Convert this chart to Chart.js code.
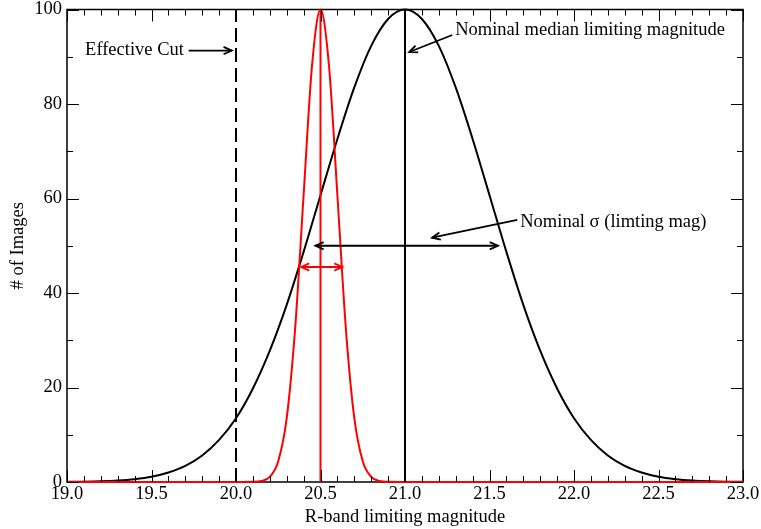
<!DOCTYPE html>
<html>
<head>
<meta charset="utf-8">
<script src="https://cdn.jsdelivr.net/npm/chart.js@4.4.1/dist/chart.umd.min.js"></script>
<style>
html,body{margin:0;padding:0;background:#fff}
#wrap{width:761px;height:529px}
</style>
</head>
<body>
<div id="wrap"><canvas id="c"></canvas></div>
<script>
// all images: limiting magnitude distribution
const allMag = [19.0,19.1,19.2,19.3,19.4,19.5,19.6,19.7,19.8,19.9,20.0,20.1,20.2,20.3,20.4,20.5,20.6,20.7,20.8,20.9,
  21.0,21.1,21.2,21.3,21.4,21.5,21.6,21.7,21.8,21.9,22.0,22.1,22.2,22.3,22.4,22.5,22.6,22.7,22.8,22.9,23.0];
const allImages = [0.03,0.07,0.15,0.31,0.6,1.1,2.0,3.4,5.6,8.9,13.5,19.8,27.8,37.5,48.7,60.7,72.6,83.5,92.3,98.0,
  100,98.0,92.3,83.5,72.6,60.7,48.7,37.5,27.8,19.8,13.5,8.9,5.6,3.4,2.0,1.1,0.6,0.31,0.15,0.07,0.03];

// narrow (red) distribution
const narrowMag = [19.0,20.0,20.1,20.15,20.2,20.25,20.3,20.35,20.4,20.45,20.5,20.55,20.6,20.65,20.7,20.75,20.8,20.85,20.9,21.0,23.0];
const narrowImages = [0,0,0.03,0.2,1.1,4.4,13.5,32.5,60.7,88.2,100,88.2,60.7,32.5,13.5,4.4,1.1,0.2,0.03,0,0];

const cutMag = 20.0;
const narrowMedian = 20.5;
const medianMag = 21.0;
const yRange = [0, 100];

const FONT = '"Liberation Serif", "Times New Roman", serif';
const FS = 18.5;

function pts(xs, ys){ return xs.map((x,i)=>({x:x, y:ys[i]})); }
function vline(v){ return [{x:v,y:yRange[0]},{x:v,y:yRange[1]}]; }

// annotations in data coords
const notes = [
  {text:'Effective Cut', x:19.107, y:91.3},
  {text:'Nominal median limiting magnitude', x:21.297, y:95.6},
  {text:'Nominal \u03c3 (limting mag)', x:21.682, y:54.9}
];
const arrows = [
  {x1:19.72,y1:91.3,x2:19.975,y2:91.3,color:'#000',both:false},
  {x1:21.28,y1:94.6,x2:21.025,y2:91.0,color:'#000',both:false},
  {x1:21.664,y1:55.5,x2:21.16,y2:51.7,color:'#000',both:false},
  {x1:20.47,y1:50,x2:21.55,y2:50,color:'#000',both:true},
  {x1:20.385,y1:45.5,x2:20.63,y2:45.5,color:'#f00',both:true}
];

function head(ctx,x1,y1,x2,y2){
  const a = Math.atan2(y2-y1,x2-x1), L = 9, w = 0.42;
  ctx.beginPath();
  ctx.moveTo(x2-L*Math.cos(a-w), y2-L*Math.sin(a-w));
  ctx.lineTo(x2,y2);
  ctx.lineTo(x2-L*Math.cos(a+w), y2-L*Math.sin(a+w));
  ctx.stroke();
}

const framePlugin = {
  id:'frame',
  beforeDatasetsDraw(chart){
    const {ctx, chartArea:a} = chart;
    ctx.save();
    ctx.strokeStyle='#000'; ctx.lineWidth=1.5;
    ctx.strokeRect(a.left, a.top, a.right-a.left, a.bottom-a.top);
    ctx.restore();
  },
  afterDatasetsDraw(chart){
    const {ctx, chartArea:a, scales:{x,y}} = chart;
    ctx.save();
    ctx.strokeStyle='#000'; ctx.lineWidth=1;
    x.ticks.forEach(t=>{
      const p = Math.round(x.getPixelForValue(t.value))+0.5;
      const len = t.label ? 12 : 6;
      ctx.beginPath();
      ctx.moveTo(p,a.bottom); ctx.lineTo(p,a.bottom-len);
      ctx.moveTo(p,a.top); ctx.lineTo(p,a.top+len);
      ctx.stroke();
    });
    y.ticks.forEach(t=>{
      const p = Math.round(y.getPixelForValue(t.value))+0.5;
      const len = t.label !== '' ? 12 : 6;
      ctx.beginPath();
      ctx.moveTo(a.left,p); ctx.lineTo(a.left+len,p);
      ctx.moveTo(a.right,p); ctx.lineTo(a.right-len,p);
      ctx.stroke();
    });
    ctx.lineWidth=1.8;
    arrows.forEach(r=>{
      const x1=x.getPixelForValue(r.x1), y1=y.getPixelForValue(r.y1);
      const x2=x.getPixelForValue(r.x2), y2=y.getPixelForValue(r.y2);
      ctx.strokeStyle=r.color;
      ctx.beginPath(); ctx.moveTo(x1,y1); ctx.lineTo(x2,y2); ctx.stroke();
      head(ctx,x1,y1,x2,y2);
      if(r.both) head(ctx,x2,y2,x1,y1);
    });
    ctx.fillStyle='#000';
    ctx.font=FS+'px '+FONT;
    ctx.textBaseline='middle';
    ctx.textAlign='left';
    notes.forEach(n=>ctx.fillText(n.text, x.getPixelForValue(n.x), y.getPixelForValue(n.y)));
    ctx.restore();
  }
};

new Chart(document.getElementById('c'),{
  type:'line',
  data:{
    datasets:[
      {data:vline(medianMag), borderColor:'#000', borderWidth:2, pointRadius:0},
      {data:vline(narrowMedian), borderColor:'#f00', borderWidth:2, pointRadius:0},
      {data:vline(cutMag), borderColor:'#000', borderWidth:2, borderDash:[14,6], pointRadius:0},
      {data:pts(narrowMag,narrowImages), borderColor:'#f00', borderWidth:2, pointRadius:0, cubicInterpolationMode:'monotone', clip:4},
      {data:pts(allMag,allImages), borderColor:'#000', borderWidth:2, pointRadius:0, cubicInterpolationMode:'monotone', clip:4}
    ]
  },
  options:{
    responsive:true,
    maintainAspectRatio:false,
    animation:false,
    layout:{padding:{top:9.5,right:18,left:0,bottom:0}},
    plugins:{legend:{display:false},tooltip:{enabled:false}},
    scales:{
      x:{
        type:'linear', min:19, max:23,
        afterFit(s){ s.height=47; s.paddingRight=0; s.paddingLeft=0; },
        grid:{display:false,drawTicks:false},
        border:{display:false},
        ticks:{
          stepSize:0.1, autoSkip:false, maxRotation:0, padding:1, color:'#000',
          font:{family:FONT,size:FS},
          callback(v){ return Math.abs(v*2-Math.round(v*2))<1e-6 ? v.toFixed(1) : ''; }
        },
        title:{display:true,text:'R-band limiting magnitude',color:'#000',font:{family:FONT,size:FS},padding:{top:0,bottom:1}}
      },
      y:{
        min:yRange[0], max:yRange[1],
        afterFit(s){ s.width=67; s.paddingTop=0; s.paddingBottom=0; },
        grid:{display:false,drawTicks:false},
        border:{display:false},
        ticks:{
          stepSize:10, padding:5, color:'#000',
          font:{family:FONT,size:FS},
          callback(v){ return v%20===0 ? String(v) : ''; }
        },
        title:{display:true,text:'# of Images',color:'#000',font:{family:FONT,size:FS},padding:{top:7,bottom:0}}
      }
    }
  },
  plugins:[framePlugin]
});
</script>
</body>
</html>
